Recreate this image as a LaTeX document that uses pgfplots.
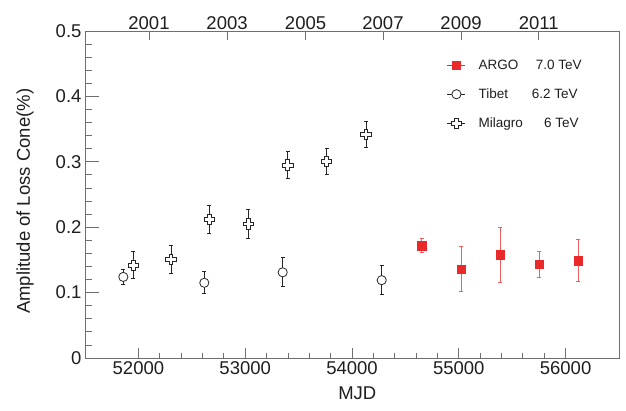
\documentclass[border=0pt]{standalone}
\usepackage{pgfplots}
\usepackage{pgfplotstable}
\pgfplotsset{compat=1.18}
\usepackage{fontspec}
\setmainfont{Liberation Sans}

\definecolor{argored}{RGB}{234,42,42}
\definecolor{framegray}{RGB}{110,110,110}
\definecolor{textgray}{RGB}{30,30,30}

% open cross (outlined plus sign), filled white
\pgfdeclareplotmark{opencross}{%
  \pgfmathsetlengthmacro\crossA{\pgfplotmarksize}%
  \pgfmathsetlengthmacro\crossB{0.36*\pgfplotmarksize}%
  \pgfpathmoveto{\pgfqpoint{-\crossB}{\crossA}}%
  \pgfpathlineto{\pgfqpoint{\crossB}{\crossA}}%
  \pgfpathlineto{\pgfqpoint{\crossB}{\crossB}}%
  \pgfpathlineto{\pgfqpoint{\crossA}{\crossB}}%
  \pgfpathlineto{\pgfqpoint{\crossA}{-\crossB}}%
  \pgfpathlineto{\pgfqpoint{\crossB}{-\crossB}}%
  \pgfpathlineto{\pgfqpoint{\crossB}{-\crossA}}%
  \pgfpathlineto{\pgfqpoint{-\crossB}{-\crossA}}%
  \pgfpathlineto{\pgfqpoint{-\crossB}{-\crossB}}%
  \pgfpathlineto{\pgfqpoint{-\crossA}{-\crossB}}%
  \pgfpathlineto{\pgfqpoint{-\crossA}{\crossB}}%
  \pgfpathlineto{\pgfqpoint{-\crossB}{\crossB}}%
  \pgfpathclose
  \pgfusepathqfillstroke
}

% MJD, amplitude (%), error
\pgfplotstableread{
x      y      e
54653  0.172  0.011
55021  0.136  0.034
55386  0.158  0.042
55751  0.143  0.020
56116  0.149  0.032
}\argo
\pgfplotstableread{
x      y      e
51859  0.124  0.012
52617  0.115  0.017
53351  0.131  0.022
54278  0.119  0.022
}\tibet
\pgfplotstableread{
x      y      e
51952  0.142  0.021
52305  0.151  0.021
52664  0.212  0.021
53029  0.205  0.022
53398  0.295  0.021
53763  0.301  0.020
54131  0.342  0.020
}\milagro

\newcommand{\ticksize}{\fontsize{18.5}{22}\selectfont}
\newcommand{\legsize}{\fontsize{13.5}{16}\selectfont}

\pgfplotsset{
  base/.style={
    scale only axis, width=534pt, height=327pt,
    xmin=51500, xmax=56500, ymin=0, ymax=0.5,
    scaled x ticks=false, scaled y ticks=false,
    axis line style={framegray, line width=0.9pt},
    tick style={framegray, line width=0.8pt},
    tick align=inside,
    ticklabel style={font=\ticksize, text=textgray},
    /pgf/number format/assume math mode=true,
  },
  legline/.style={
    legend image code/.code={
      \draw[##1, sharp plot, solid] (0pt,0pt) -- (18pt,0pt);
      \draw[##1, only marks] plot coordinates {(9pt,0pt)};
    }
  },
}

\begin{document}
\begin{tikzpicture}
% main axis: data, MJD ticks, frame
\begin{axis}[
  base, name=main,
  xtick={52000,53000,54000,55000,56000},
  minor x tick num=4,
  xtick pos=bottom,
  major tick length=10pt, minor tick length=5pt,
  xticklabel style={/pgf/number format/set thousands separator={}},
  ytick=\empty,
  xlabel={MJD},
  xlabel style={font=\ticksize, text=textgray, at={(axis description cs:0.51,-0.107)}, anchor=center},
  ylabel={Amplitude of Loss Cone(\%)},
  ylabel style={font=\ticksize, text=textgray, at={(axis description cs:-0.112,0.479)}, anchor=center, rotate=0},
  legend style={at={(axis description cs:0.678,0.916)}, anchor=north west,
    draw=none, fill=none, font=\legsize, text=textgray, row sep=16pt, inner sep=0pt,
    nodes={inner sep=1pt}},
  legend cell align=left,
  clip=false,
]
\addplot[only marks, argored, mark=square*, mark size=4.2pt, legline,
  error bars/.cd, y dir=both, y explicit,
  error bar style={argored!75, line width=0.9pt},
  error mark options={rotate=90, mark size=2pt, argored!75, line width=0.9pt}]
  table[x=x, y=y, y error=e] {\argo};
\addlegendentry{\hspace*{12pt}\makebox[54pt][l]{ARGO}\makebox[49pt][r]{7.0 TeV}}

\addplot[only marks, black!85, mark=*, mark size=4.6pt, mark options={fill=white, line width=0.8pt}, legline,
  error bars/.cd, y dir=both, y explicit,
  error bar style={black!85, line width=0.9pt},
  error mark options={rotate=90, mark size=2pt, black!85, line width=0.9pt}]
  table[x=x, y=y, y error=e] {\tibet};
\addlegendentry{\hspace*{12pt}\makebox[54pt][l]{Tibet}\makebox[45pt][r]{6.2 TeV}}

\addplot[only marks, black!85, mark=opencross, mark size=5.2pt, mark options={fill=white, line width=0.8pt}, legline,
  error bars/.cd, y dir=both, y explicit,
  error bar style={black!85, line width=0.9pt},
  error mark options={rotate=90, mark size=2pt, black!85, line width=0.9pt}]
  table[x=x, y=y, y error=e] {\milagro};
\addlegendentry{\hspace*{12pt}\makebox[54pt][l]{Milagro}\makebox[46pt][r]{6 TeV}}
\end{axis}

% amplitude ticks on the left
\begin{axis}[
  base,
  axis y line*=left, hide x axis,
  ytick={0,0.1,0.2,0.3,0.4,0.5},
  minor y tick num=4,
  major tick length=14pt, minor tick length=7pt,
  yticklabel style={/pgf/number format/fixed, /pgf/number format/precision=1},
]
\end{axis}

% calendar years along the top
\begin{axis}[
  base,
  axis x line*=top, axis y line=none,
  xtick={52099,52830,53565,54290,55021,55748},
  xticklabels={2001,2003,2005,2007,2009,2011},
  major tick length=9pt,
  xticklabel style={yshift=-2pt},
]
\end{axis}

\pgfresetboundingbox
\path[use as bounding box] ([shift={(-85pt,-52pt)}]main.south west) rectangle ([shift={(541pt,358pt)}]main.south west);
\end{tikzpicture}
\end{document}
